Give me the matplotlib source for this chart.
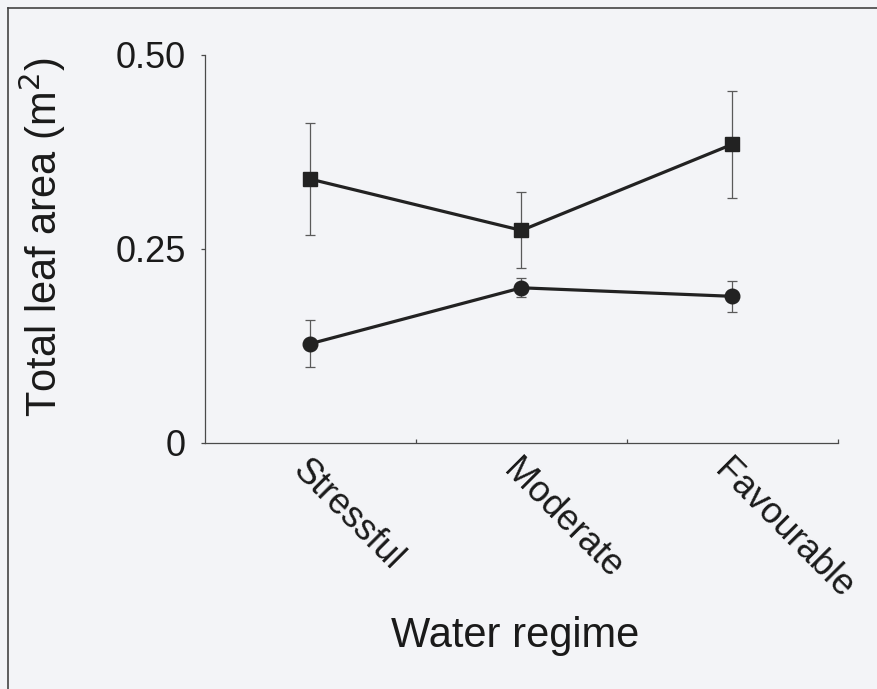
import matplotlib
matplotlib.use("Agg")
import matplotlib.pyplot as plt
from matplotlib.lines import Line2D

# Data: total leaf area (m^2) per water regime, two groups, with error bars
regimes = ["Stressful", "Moderate", "Favourable"]
square_means = [0.340, 0.274, 0.385]
square_err = [0.072, 0.049, 0.069]
circle_means = [0.128, 0.200, 0.189]
circle_err = [0.030, 0.012, 0.020]
y_ticks = [0, 0.25, 0.50]
y_tick_labels = ["0", "0.25", "0.50"]

plt.rcParams['font.family'] = ['Liberation Sans', 'DejaVu Sans']

W, H = 878, 689
bg = '#f3f4f7'
fig = plt.figure(figsize=(W / 100, H / 100), dpi=100, facecolor=bg)

ax_left, ax_right, ax_top, ax_bottom = 205, 838, 55, 443
ax = fig.add_axes([ax_left / W, 1 - ax_bottom / H,
                   (ax_right - ax_left) / W, (ax_bottom - ax_top) / H])
ax.set_facecolor('none')

x = list(range(len(regimes)))
line_col = '#222222'
err_col = '#5a5a5a'

for means, errs, mk, ms in [(square_means, square_err, 's', 10.5),
                            (circle_means, circle_err, 'o', 10.5)]:
    ax.errorbar(x, means, yerr=errs, fmt='none', ecolor=err_col,
                elinewidth=0.9, capsize=3.5, capthick=0.9, zorder=2)
    ax.plot(x, means, color=line_col, lw=2.3, marker=mk, ms=ms,
            mfc=line_col, mec=line_col, zorder=3)

ax.set_xlim(-0.5, 2.5)
ax.set_ylim(0, 0.5)

for s in ['top', 'right']:
    ax.spines[s].set_visible(False)
for s in ['left', 'bottom']:
    ax.spines[s].set_color('#4a4a4a')
    ax.spines[s].set_linewidth(0.9)

ax.set_yticks(y_ticks)
ax.set_yticklabels(y_tick_labels)
ax.tick_params(axis='y', direction='out', length=3, width=0.9,
               color='#4a4a4a', labelsize=26, pad=11, labelcolor='#1a1a1a')

ax.set_xticks(x)
ax.set_xticklabels(regimes, rotation=-45, ha='left', va='top',
                   rotation_mode='anchor', fontsize=26, color='#1a1a1a')
ax.tick_params(axis='x', which='major', length=0, pad=7)
ax.set_xticks([0.5, 1.5, 2.5], minor=True)
ax.tick_params(axis='x', which='minor', direction='in', length=3,
               width=0.9, color='#4a4a4a')

fig.text(42 / W, 1 - 237 / H, "Total leaf area (m$^2$)", rotation=90,
         ha='center', va='center', fontsize=30, color='#1a1a1a')
fig.text(515 / W, 1 - 636 / H, "Water regime", ha='center', va='center',
         fontsize=30, color='#1a1a1a')

# frame lines at the top and left of the figure
fig.add_artist(Line2D([8 / W, 8 / W], [0, 1 - 8 / H], transform=fig.transFigure,
                      color='#444444', lw=1.2))
fig.add_artist(Line2D([8 / W, 1], [1 - 8 / H, 1 - 8 / H], transform=fig.transFigure,
                      color='#444444', lw=1.2))

fig.savefig("out.png", dpi=100, facecolor=bg)
